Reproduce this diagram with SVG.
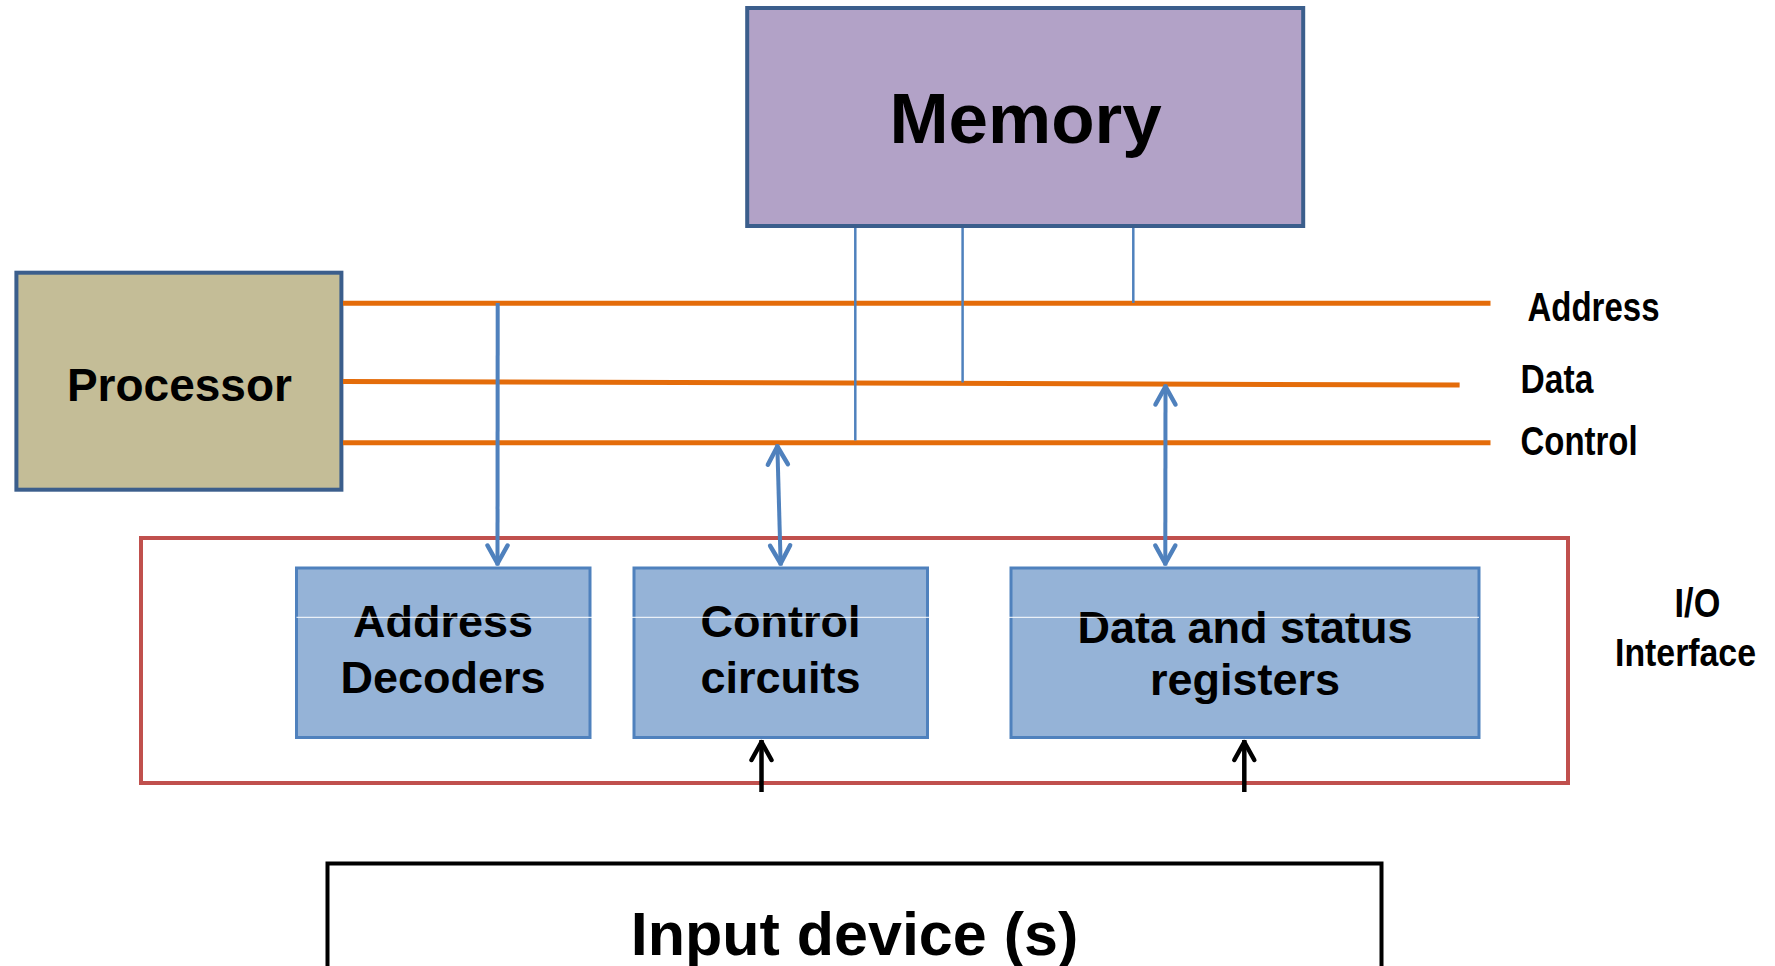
<svg xmlns="http://www.w3.org/2000/svg" width="1775" height="966" viewBox="0 0 1775 966">
<style>
  text { font-family: "Liberation Sans", Arial, sans-serif; font-weight: bold; fill: #000; }
  .c { text-anchor: middle; }
  .bus { stroke: #e46c0a; stroke-width: 5; fill: none; }
  .blue { stroke: #4f81bd; stroke-width: 4; fill: none; }
  .thin { stroke: #4f81bd; stroke-width: 2.5; fill: none; }
  .blk { stroke: #000; stroke-width: 4.5; fill: none; }
  .unit { fill: #95b3d7; stroke: #4f81bd; stroke-width: 3; }
</style>
<defs>
  <marker id="ab" markerUnits="userSpaceOnUse" orient="auto-start-reverse" viewBox="-26 -14 30 28" markerWidth="30" markerHeight="28" refX="0" refY="0">
    <path d="M-20,-10 L-2,0 L-20,10" fill="none" stroke="#4f81bd" stroke-width="4.5" stroke-linejoin="round" stroke-linecap="round"/>
  </marker>
  <marker id="ak" markerUnits="userSpaceOnUse" orient="auto-start-reverse" viewBox="-26 -14 30 28" markerWidth="30" markerHeight="28" refX="0" refY="0">
    <path d="M-20,-10 L-2,0 L-20,10" fill="none" stroke="#000" stroke-width="4.5" stroke-linejoin="round" stroke-linecap="round"/>
  </marker>
</defs>

<g id="io-interface">
  <rect x="141" y="538" width="1427" height="245" fill="none" stroke="#c0504d" stroke-width="4"/>
  <text x="1674.6" y="616.7" font-size="40" textLength="45.7" lengthAdjust="spacingAndGlyphs">I/O</text>
  <text x="1615" y="665.7" font-size="39" textLength="141" lengthAdjust="spacingAndGlyphs">Interface</text>
</g>

<g id="memory">
  <rect x="747.2" y="8" width="556" height="218" fill="#b2a2c7" stroke="#3b5e8c" stroke-width="4"/>
  <text class="c" x="1025.6" y="142.7" font-size="71">Memory</text>
</g>

<g id="processor">
  <rect x="16.4" y="272.7" width="325" height="217" fill="#c4bd97" stroke="#3b5e8c" stroke-width="4"/>
  <text class="c" x="179.4" y="400.7" font-size="46">Processor</text>
</g>

<g id="buses">
  <line class="bus" x1="343" y1="303.3" x2="1490.5" y2="303.3"/>
  <line class="bus" x1="343" y1="381.5" x2="1459.6" y2="385"/>
  <line class="bus" x1="343" y1="442.7" x2="1490.5" y2="442.7"/>
  <text x="1527.5" y="320.7" font-size="40" textLength="132" lengthAdjust="spacingAndGlyphs">Address</text>
  <text x="1520.6" y="392.7" font-size="40" textLength="72.7" lengthAdjust="spacingAndGlyphs">Data</text>
  <text x="1520.6" y="455" font-size="40" textLength="117" lengthAdjust="spacingAndGlyphs">Control</text>
</g>

<g id="address-decoders">
  <rect class="unit" x="296.5" y="568" width="293.5" height="169.5"/>
  <text class="c" x="443" y="636.7" font-size="45">Address</text>
  <text class="c" x="443" y="692.7" font-size="45">Decoders</text>
</g>

<g id="control-circuits">
  <rect class="unit" x="634" y="568" width="293.5" height="169.5"/>
  <text class="c" x="780.5" y="636.7" font-size="45">Control</text>
  <text class="c" x="780.5" y="692.7" font-size="45">circuits</text>
</g>

<g id="data-status-registers">
  <rect class="unit" x="1011" y="568" width="468" height="169.5"/>
  <text class="c" x="1245" y="643.3" font-size="45">Data and status</text>
  <text class="c" x="1245" y="695" font-size="45">registers</text>
</g>

<g id="input-device">
  <rect x="327.5" y="863.5" width="1054" height="200" fill="none" stroke="#000" stroke-width="4"/>
  <text class="c" x="854.5" y="955" font-size="61">Input device (s)</text>
</g>

<g id="connectors">
  <line class="thin" x1="855.3" y1="228" x2="855.3" y2="440.5"/>
  <line class="thin" x1="962.6" y1="228" x2="962.6" y2="382.5"/>
  <line class="thin" x1="1133.3" y1="228" x2="1133.3" y2="303"/>
  <line class="blue" x1="497.7" y1="303" x2="497.5" y2="565.5" marker-end="url(#ab)"/>
  <line class="blue" x1="777.3" y1="444.5" x2="780.7" y2="565.5" marker-start="url(#ab)" marker-end="url(#ab)"/>
  <line class="blue" x1="1165.5" y1="384.5" x2="1165.3" y2="565.5" marker-start="url(#ab)" marker-end="url(#ab)"/>
  <line class="blk" x1="761.5" y1="792" x2="761.5" y2="740" marker-end="url(#ak)"/>
  <line class="blk" x1="1244.3" y1="792" x2="1244.3" y2="740" marker-end="url(#ak)"/>
</g>

<line x1="296.5" y1="617.3" x2="1479" y2="617.3" stroke="#fff" stroke-width="1"/>
</svg>
